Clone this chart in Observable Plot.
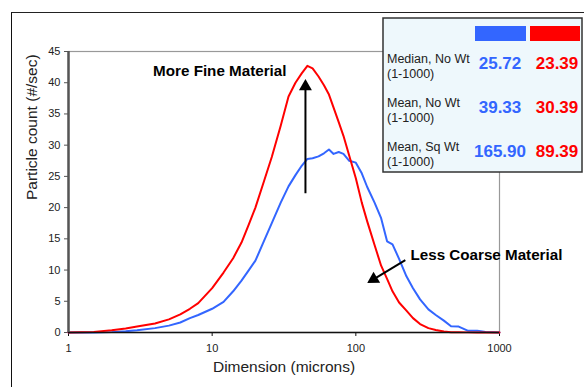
<!DOCTYPE html>
<html>
<head>
<meta charset="utf-8">
<script src="https://cdn.jsdelivr.net/npm/d3@7"></script>
<script src="https://cdn.jsdelivr.net/npm/@observablehq/plot@0.6"></script>
<style>
  html, body { margin: 0; padding: 0; background: white; }
  #wrap { position: relative; width: 584px; height: 387px; overflow: hidden; }
  #outer { position: absolute; left: 11px; top: 12px; width: 600px; height: 400px;
           border-top: 1.5px solid #222; border-left: 1.5px solid #111; pointer-events: none; }
  #legend { position: absolute; left: 0; top: 0; }
</style>
</head>
<body>
<div id="wrap"></div>
<script>
// ---- data ----
const sizes = [1,1.5,2,2.5,3,4,5,6,7,8,10,12,14,16,18,20,23,26,30,34,38,42,46,50,55,60,65,70,76,82,90,100,110,120,135,150,165,180,200,225,250,280,320,360,410,460,520,600,700,800,1000];
const redCounts = [0,0.1,0.35,0.65,0.95,1.45,2.1,2.9,3.8,4.7,7.1,9.6,11.9,14.4,17.3,20.0,24.3,28.1,33.1,37.8,40.0,41.5,42.7,42.3,41.0,39.6,38.1,36.0,33.7,31.5,28.3,24.7,20.8,17.8,14.0,10.7,8.6,6.6,4.8,3.5,2.3,1.35,0.7,0.4,0.15,0.05,0.05,0.02,0,0,0];
const blueCounts = [0,0.02,0.06,0.2,0.36,0.7,1.1,1.6,2.3,2.8,3.8,4.9,6.6,8.3,10.0,11.5,14.7,17.5,20.8,23.4,25.2,26.7,27.8,27.9,28.2,28.7,29.3,28.6,28.9,28.6,27.5,27.2,25.5,23.3,20.8,18.3,14.6,14.1,11.8,9.0,7.1,5.3,3.7,2.8,1.9,1.0,0.95,0.3,0.3,0.1,0];

const xTicks = [1, 10, 100, 1000];
const yTicks = [0, 5, 10, 15, 20, 25, 30, 35, 40, 45];

const statLabels = ["Median, No Wt", "Mean, No Wt", "Mean, Sq Wt"];
const rangeLabel = "(1-1000)";
const blueStats = ["25.72", "39.33", "165.90"];
const redStats = ["23.39", "30.39", "89.39"];

// annotations (data coordinates: microns, count)
const fineLabel = {x: 11.3, y: 41.9, text: "More Fine Material"};
const coarseLabel = {x: 240, y: 12.4, text: "Less Coarse Material"};
const arrows = [
  {x1: 44.6, y1: 22.3, x2: 44.6, y2: 39.0, hx: 44.6, hy: 39.4, rot: 0},
  {x1: 221, y1: 11.6, x2: 130, y2: 8.4, hx: 133, hy: 8.54, rot: 239}
];

const BLUE = "#3366ff", RED = "#ff0000";

const series = [
  ...sizes.map((s, i) => ({size: s, count: blueCounts[i], name: "blue"})),
  ...sizes.map((s, i) => ({size: s, count: redCounts[i], name: "red"}))
];

const sansFont = "'Liberation Sans', Arial, sans-serif";

const chart = Plot.plot({
  width: 584, height: 387,
  marginLeft: 68, marginRight: 85, marginTop: 51, marginBottom: 55,
  style: {fontFamily: sansFont, fontSize: "11px", color: "#222", background: "transparent", overflow: "visible"},
  x: {type: "log", domain: [1, 1000]},
  y: {domain: [0, 45]},
  marks: [
    Plot.frame({stroke: "#999", strokeWidth: 1.2}),
    Plot.axisX({ticks: xTicks, tickFormat: d => String(d), tickSize: 4, tickPadding: 8, label: null, stroke: "#111"}),
    Plot.axisY({ticks: yTicks, tickSize: 4, tickPadding: 4, label: null, stroke: "#555"}),
    Plot.line(series, {x: "size", y: "count", z: "name", stroke: d => d.name === "red" ? RED : BLUE, strokeWidth: 2}),
    Plot.ruleY([0], {stroke: "#111", strokeWidth: 1.5}),
    Plot.ruleX([1], {stroke: "#555", strokeWidth: 2.5}),
    Plot.link(arrows, {x1: "x1", y1: "y1", x2: "x2", y2: "y2", stroke: "#000", strokeWidth: 2}),
    Plot.dot(arrows, {x: "hx", y: "hy", symbol: "triangle", r: 4.8, fill: "#000", stroke: "none", rotate: "rot"}),
    Plot.text([fineLabel], {x: "x", y: "y", text: "text", fontSize: 15.2, fontWeight: "bold", fontFamily: sansFont, fill: "#000"}),
    Plot.text([coarseLabel], {x: "x", y: "y", text: "text", fontSize: 15.2, fontWeight: "bold", fontFamily: sansFont, fill: "#000", textAnchor: "start"}),
    Plot.text(["Particle count (#/sec)"], {frameAnchor: "left", dx: -36, dy: 8, rotate: -90, text: d => d, fontSize: 15.5, fontFamily: sansFont, fill: "#222"}),
    Plot.text(["Dimension (microns)"], {frameAnchor: "bottom", dy: 39, text: d => d, fontSize: 15.5, fontFamily: sansFont, fill: "#222"})
  ]
});

const wrap = document.getElementById("wrap");
wrap.appendChild(chart);
const outer = document.createElement("div");
outer.id = "outer";
wrap.appendChild(outer);

// ---- stats legend box ----
const leg = d3.select(wrap).append("svg").attr("id", "legend").attr("width", 584).attr("height", 387);
leg.append("rect").attr("x", 383).attr("y", 18).attr("width", 199).attr("height", 154)
  .attr("fill", "#eef8fc").attr("stroke", "#333").attr("stroke-width", 1.5);
leg.append("rect").attr("x", 475).attr("y", 26).attr("width", 51).attr("height", 15).attr("fill", BLUE);
leg.append("rect").attr("x", 530).attr("y", 26).attr("width", 50).attr("height", 15).attr("fill", RED);
const rowY = [63, 107, 151];
statLabels.forEach((lab, i) => {
  const y = rowY[i];
  leg.append("text").attr("x", 387).attr("y", y).text(lab)
    .attr("font-family", sansFont).attr("font-size", 12.5).attr("fill", "#222");
  leg.append("text").attr("x", 387).attr("y", y + 15).text(rangeLabel)
    .attr("font-family", sansFont).attr("font-size", 12.5).attr("fill", "#222");
  leg.append("text").attr("x", 500).attr("y", y + 5.5).attr("text-anchor", "middle").text(blueStats[i])
    .attr("font-family", sansFont).attr("font-size", 17).attr("font-weight", "bold").attr("fill", BLUE);
  leg.append("text").attr("x", 557).attr("y", y + 5.5).attr("text-anchor", "middle").text(redStats[i])
    .attr("font-family", sansFont).attr("font-size", 17).attr("font-weight", "bold").attr("fill", RED);
});
</script>
</body>
</html>
